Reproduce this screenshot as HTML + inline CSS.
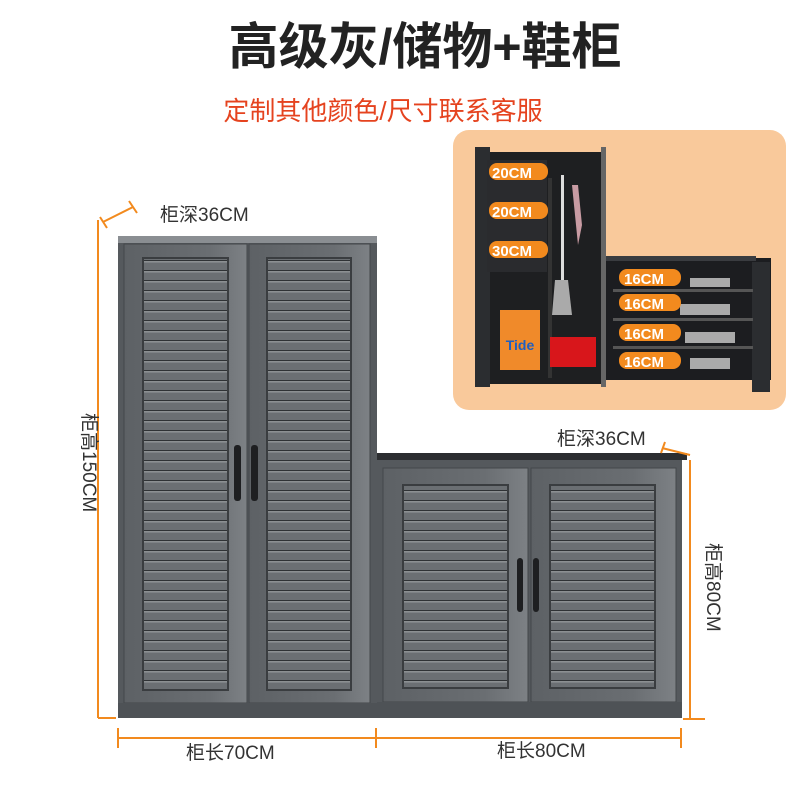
<!DOCTYPE html>
<html><head><meta charset="utf-8"><style>
body{margin:0;background:#fff}
svg{display:block}
text{font-family:"Liberation Sans","Noto Sans CJK SC",sans-serif}
</style></head><body>
<svg width="800" height="800" viewBox="0 0 800 800" xmlns="http://www.w3.org/2000/svg">
<defs>
<pattern id="lv" x="0" y="0" width="10" height="10" patternUnits="userSpaceOnUse">
<rect width="10" height="10" fill="#6b6f73"/>
<rect y="0" width="10" height="1.3" fill="#2f3235"/>
<rect y="1.3" width="10" height="1" fill="#a9adb0"/>
</pattern>
<linearGradient id="door" x1="0" x2="1"><stop offset="0" stop-color="#5d6165"/><stop offset="0.7" stop-color="#6a6e72"/><stop offset="1" stop-color="#7d8185"/></linearGradient>
</defs>
<text x="425" y="64" font-size="50" font-weight="bold" fill="#222" text-anchor="middle">高级灰/储物+鞋柜</text>
<text x="383" y="120" font-size="26" fill="#e5431f" text-anchor="middle">定制其他颜色/尺寸联系客服</text>

<!-- inset -->
<rect x="453" y="130" width="333" height="280" rx="16" fill="#f9c99b"/>
<rect x="475" y="152" width="130" height="232" fill="#1e1f21"/>
<rect x="475" y="147" width="15" height="240" fill="#2b2d30"/>
<rect x="601" y="147" width="5" height="240" fill="#666"/>
<rect x="487" y="160" width="60" height="112" fill="#2a2b2e"/>
<rect x="548" y="178" width="4" height="200" fill="#333"/>
<rect x="500" y="310" width="40" height="60" fill="#f08a2a"/>
<text x="520" y="350" font-size="14" fill="#1e5fc2" font-weight="bold" text-anchor="middle">Tide</text>
<rect x="550" y="337" width="46" height="30" fill="#d8161b"/>
<polygon points="555,280 568,280 572,315 552,315" fill="#aaa"/>
<rect x="561" y="175" width="3" height="105" fill="#ddd"/>
<path d="M572 185 l6 0 l4 40 l-4 20 z" fill="#c89ba3"/>
<rect x="606" y="258" width="165" height="122" fill="#1c1d20"/>
<rect x="606" y="256" width="150" height="5" fill="#3a3c40"/>
<rect x="752" y="262" width="18" height="130" fill="#2b2d30"/>
<rect x="613" y="289" width="140" height="3" fill="#555"/>
<rect x="613" y="318" width="140" height="3" fill="#555"/>
<rect x="613" y="346" width="140" height="3" fill="#555"/>
<g fill="#aaa"><rect x="690" y="278" width="40" height="9"/><rect x="680" y="304" width="50" height="11"/><rect x="685" y="332" width="50" height="11"/><rect x="690" y="358" width="40" height="11"/></g>
<g fill="#f28a1e">
<rect x="489" y="163" width="59" height="17" rx="8"/>
<rect x="489" y="202" width="59" height="17" rx="8"/>
<rect x="489" y="241" width="59" height="17" rx="8"/>
<rect x="619" y="269" width="62" height="17" rx="8"/>
<rect x="619" y="294" width="62" height="17" rx="8"/>
<rect x="619" y="324" width="62" height="17" rx="8"/>
<rect x="619" y="352" width="62" height="17" rx="8"/>
</g>
<g fill="#fff" font-size="15" font-weight="bold">
<text x="492" y="178">20CM</text><text x="492" y="217">20CM</text><text x="492" y="256">30CM</text>
<text x="624" y="284">16CM</text><text x="624" y="309">16CM</text><text x="624" y="339">16CM</text><text x="624" y="367">16CM</text>
</g>

<!-- tall cabinet -->
<rect x="118" y="236" width="259" height="482" fill="#55595d"/>
<rect x="118" y="236" width="259" height="7" fill="#8a8e92"/>
<rect x="124" y="244" width="123" height="459" fill="url(#door)" stroke="#44474a"/>
<rect x="249" y="244" width="121" height="459" fill="url(#door)" stroke="#44474a"/>
<rect x="143" y="258" width="85" height="432" fill="url(#lv)" stroke="#3a3d40" stroke-width="2"/>
<rect x="267" y="258" width="84" height="432" fill="url(#lv)" stroke="#3a3d40" stroke-width="2"/>
<rect x="234" y="445" width="7" height="56" rx="3" fill="#1e1f21"/>
<rect x="251" y="445" width="7" height="56" rx="3" fill="#1e1f21"/>
<rect x="118" y="703" width="259" height="15" fill="#4e5256"/>

<!-- short cabinet -->
<rect x="377" y="455" width="305" height="263" fill="#55595d"/>
<rect x="377" y="453" width="310" height="7" fill="#2c2e31"/>
<rect x="383" y="468" width="145" height="234" fill="url(#door)" stroke="#44474a"/>
<rect x="531" y="468" width="145" height="234" fill="url(#door)" stroke="#44474a"/>
<rect x="403" y="485" width="105" height="203" fill="url(#lv)" stroke="#3a3d40" stroke-width="2"/>
<rect x="550" y="485" width="105" height="203" fill="url(#lv)" stroke="#3a3d40" stroke-width="2"/>
<rect x="517" y="558" width="6" height="54" rx="3" fill="#1e1f21"/>
<rect x="533" y="558" width="6" height="54" rx="3" fill="#1e1f21"/>
<rect x="377" y="702" width="305" height="16" fill="#4e5256"/>

<!-- dimensions -->
<g stroke="#f28a1e" stroke-width="2" fill="none">
<line x1="98" y1="220" x2="98" y2="718"/>
<line x1="98" y1="718" x2="116" y2="718"/>
<line x1="103" y1="222" x2="133" y2="207"/>
<line x1="100" y1="217" x2="107" y2="228"/>
<line x1="129" y1="201" x2="137" y2="213"/>
<line x1="118" y1="738" x2="682" y2="738"/>
<line x1="118" y1="728" x2="118" y2="748"/>
<line x1="376" y1="728" x2="376" y2="748"/>
<line x1="681" y1="728" x2="681" y2="748"/>
<line x1="690" y1="460" x2="690" y2="718"/>
<line x1="683" y1="719" x2="705" y2="719"/>
<line x1="662" y1="448" x2="690" y2="455"/>
<line x1="665" y1="442" x2="661" y2="453"/>
</g>
<g font-size="19" fill="#333">
<text x="160" y="221">柜深36CM</text>
<text x="557" y="445">柜深36CM</text>
<text x="186" y="759">柜长70CM</text>
<text x="497" y="757">柜长80CM</text>
<text transform="translate(83,413) rotate(90)">柜高150CM</text>
<text transform="translate(707,543) rotate(90)">柜高80CM</text>
</g>
</svg>
</body></html>
